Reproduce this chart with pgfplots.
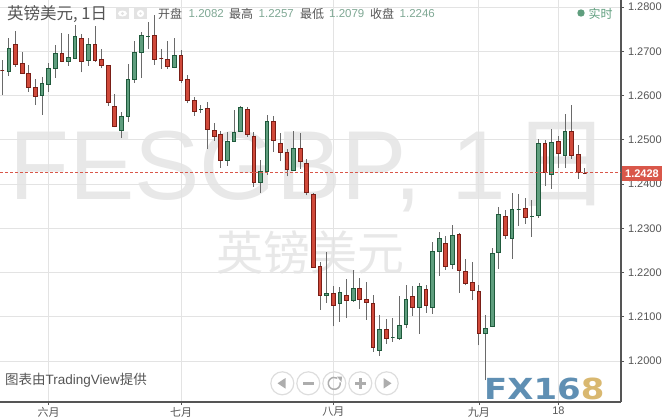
\documentclass[border=0pt]{standalone}
\usepackage{fontspec}
\usepackage{pgfplots}
\usepackage{pgfplotstable}
\pgfplotsset{compat=1.18}
\setmainfont{Liberation Sans}
\newfontfamily\cjk{Noto Sans CJK SC}
\newfontfamily\logofont{DejaVu Sans}[BoldFont={DejaVu Sans Bold}]

\definecolor{gridc}{HTML}{E3E3E3}
\definecolor{spine}{HTML}{555555}
\definecolor{txt}{HTML}{555555}
\definecolor{numc}{HTML}{7FA894}
\definecolor{upfill}{HTML}{5F9E7E}
\definecolor{upline}{HTML}{1F5A3C}
\definecolor{dnfill}{HTML}{D0493A}
\definecolor{dnline}{HTML}{7A1E16}
\definecolor{wick}{HTML}{6A6A6A}
\definecolor{mark}{HTML}{E8E8E8}
\definecolor{tag}{HTML}{D9574A}
\definecolor{btn}{HTML}{DDDDDD}
\definecolor{btns}{HTML}{ADADAD}

% row number = trading day
\pgfplotstableread{
hi top bot lo
1.2680 1.2656 1.2656 1.2601
1.2731 1.2707 1.2654 1.2644
1.2746 1.2716 1.2670 1.2665
1.2699 1.2673 1.2650 1.2649
1.2669 1.2650 1.2618 1.2609
1.2637 1.2618 1.2597 1.2578
1.2641 1.2627 1.2600 1.2556
1.2673 1.2661 1.2625 1.2608
1.2714 1.2695 1.2661 1.2640
1.2742 1.2695 1.2676 1.2675
1.2739 1.2686 1.2676 1.2667
1.2759 1.2734 1.2684 1.2682
1.2738 1.2729 1.2676 1.2652
1.2729 1.2716 1.2679 1.2667
1.2757 1.2716 1.2679 1.2676
1.2705 1.2682 1.2667 1.2661
1.2669 1.2668 1.2585 1.2577
1.2603 1.2575 1.2530 1.2528
1.2562 1.2553 1.2521 1.2505
1.2671 1.2637 1.2552 1.2541
1.2723 1.2698 1.2637 1.2629
1.2743 1.2736 1.2698 1.2639
1.2765 1.2733 1.2733 1.2705
1.2782 1.2736 1.2681 1.2669
1.2704 1.2683 1.2683 1.2660
1.2723 1.2682 1.2665 1.2660
1.2731 1.2691 1.2663 1.2661
1.2703 1.2691 1.2634 1.2629
1.2646 1.2637 1.2589 1.2582
1.2596 1.2589 1.2564 1.2554
1.2578 1.2569 1.2569 1.2560
1.2585 1.2571 1.2524 1.2479
1.2537 1.2521 1.2508 1.2498
1.2520 1.2512 1.2454 1.2437
1.2517 1.2496 1.2454 1.2441
1.2567 1.2517 1.2496 1.2495
1.2576 1.2573 1.2519 1.2517
1.2575 1.2569 1.2512 1.2507
1.2517 1.2508 1.2403 1.2394
1.2454 1.2429 1.2404 1.2380
1.2555 1.2542 1.2428 1.2421
1.2553 1.2542 1.2499 1.2472
1.2515 1.2492 1.2472 1.2451
1.2478 1.2472 1.2433 1.2417
1.2520 1.2481 1.2430 1.2429
1.2515 1.2481 1.2451 1.2435
1.2456 1.2447 1.2381 1.2374
1.2380 1.2377 1.2212 1.2211
1.2223 1.2213 1.2148 1.2116
1.2246 1.2153 1.2148 1.2132
1.2170 1.2153 1.2126 1.2078
1.2167 1.2155 1.2130 1.2089
1.2185 1.2148 1.2137 1.2098
1.2206 1.2164 1.2136 1.2134
1.2188 1.2164 1.2139 1.2118
1.2179 1.2139 1.2133 1.2093
1.2148 1.2130 1.2031 1.2021
1.2104 1.2072 1.2024 1.2012
1.2095 1.2072 1.2051 1.2039
1.2097 1.2053 1.2053 1.2044
1.2147 1.2081 1.2051 1.2048
1.2172 1.2139 1.2083 1.2074
1.2170 1.2146 1.2121 1.2102
1.2176 1.2169 1.2121 1.2062
1.2171 1.2162 1.2126 1.2109
1.2268 1.2248 1.2121 1.2107
1.2292 1.2277 1.2248 1.2193
1.2282 1.2266 1.2214 1.2206
1.2307 1.2284 1.2218 1.2207
1.2289 1.2286 1.2205 1.2154
1.2231 1.2203 1.2176 1.2171
1.2223 1.2178 1.2160 1.2137
1.2171 1.2157 1.2062 1.2035
1.2104 1.2074 1.2062 1.1956
1.2255 1.2243 1.2078 1.2076
1.2349 1.2331 1.2246 1.2209
1.2341 1.2327 1.2283 1.2276
1.2379 1.2343 1.2277 1.2231
1.2377 1.2343 1.2343 1.2306
1.2368 1.2345 1.2325 1.2310
1.2364 1.2326 1.2326 1.2281
1.2502 1.2492 1.2329 1.2324
1.2499 1.2492 1.2426 1.2395
1.2524 1.2494 1.2422 1.2389
1.2508 1.2496 1.2469 1.2437
1.2558 1.2519 1.2465 1.2436
1.2579 1.2519 1.2465 1.2457
1.2488 1.2467 1.2427 1.2412
1.2436 1.2424 1.2424 1.2422
}\candles

% one candle: day (table row), fill colour, outline colour
\newcommand\candle[3]{%
  \pgfplotstablegetelem{#1}{hi}\of\candles\let\cHi\pgfplotsretval
  \pgfplotstablegetelem{#1}{top}\of\candles\let\cTop\pgfplotsretval
  \pgfplotstablegetelem{#1}{bot}\of\candles\let\cBot\pgfplotsretval
  \pgfplotstablegetelem{#1}{lo}\of\candles\let\cLo\pgfplotsretval
  \pgfmathsetmacro\xl{#1-0.28}%
  \pgfmathsetmacro\xr{#1+0.28}%
  \edef\act{\noexpand\addplot[forget plot,wick,line width=0.9pt]
      coordinates {(#1,\cLo) (#1,\cHi)};
    \noexpand\addplot[forget plot,draw=#3,fill=#2,line width=1pt]
      coordinates {(\xl,\cBot) (\xr,\cBot) (\xr,\cTop) (\xl,\cTop)} -- cycle;}%
  \act
}

\begin{document}
\begin{tikzpicture}[x=1pt,y=-1pt]
\useasboundingbox (0,0) rectangle (662,418);

% watermarks
\node[anchor=base west,inner sep=0pt,text=mark,font=\fontsize{98}{98}\selectfont] at (9,199) {FESGBP, \kern3pt 1\kern5pt{\cjk\fontsize{100}{100}\selectfont 日}};
\node[anchor=center,inner sep=0pt,text=mark,font=\fontsize{47}{47}\selectfont\cjk] at (310,253) {英镑美元};

\begin{axis}[
  at={(0pt,-402pt)},anchor=south west,
  scale only axis,width=621pt,height=402pt,
  xmin=-0.35,xmax=93.46,ymin=1.19073,ymax=1.28158,
  axis x line*=bottom,axis y line*=right,
  axis line style={-,spine,line width=1.1pt},
  grid=major,major grid style={gridc,line width=0.9pt},
  tick align=outside,major tick length=3pt,
  tick style={spine,line width=0.8pt},
  xtick={7,27,50,72,84},
  xticklabels={{\cjk 六月},{\cjk 七月},{\cjk 八月},{\cjk 九月},18},
  ytick={1.20,1.21,1.22,1.23,1.24,1.25,1.26,1.27,1.28},
  /pgf/number format/fixed,
  /pgf/number format/fixed zerofill,
  /pgf/number format/precision=4,
  /pgf/number format/assume math mode=true,
  ticklabel style={font=\fontsize{11}{11}\selectfont,text=txt},
  xticklabel style={yshift=1.5pt},
  yticklabel style={xshift=0.5pt},
  clip=true,
]
\pgfplotsinvokeforeach{1,6,7,8,10,11,13,18,19,20,21,22,26,30,34,35,36,39,40,44,49,51,53,57,59,60,61,63,65,66,68,73,74,75,77,78,80,81,83,85}{
  \candle{#1}{upfill}{upline}
}
\pgfplotsinvokeforeach{0,2,3,4,5,9,12,14,15,16,17,23,24,25,27,28,29,31,32,33,37,38,41,42,43,45,46,47,48,50,52,54,55,56,58,62,64,67,69,70,71,72,76,79,82,84,86,87,88}{
  \candle{#1}{dnfill}{dnline}
}
\addplot[forget plot,tag,densely dashed,line width=0.7pt] coordinates {(-0.35,1.2427) (93.46,1.2427)};
\end{axis}

% last price tag
\fill[tag] (621.5,166) rectangle (662,181);
\node[anchor=center,inner sep=0pt,text=white,font=\fontsize{11}{11}\selectfont\bfseries] at (642,173.5) {1.2428};

% header
\node[anchor=west,inner sep=0pt,text=txt,font=\fontsize{16.5}{17}\selectfont\cjk] at (7,14) {英镑美元, 1日};
\fill[gridc] (116,8) rectangle (129,19);
\fill[white] (122.5,13.5) ellipse (4.5 and 3);
\fill[gridc] (122.5,13.5) circle (1.6);
\fill[gridc] (134,8) rectangle (147,19);
\fill[white] (140.5,13.5) circle (3.6);
\fill[gridc] (140.5,13.5) circle (1.3);
\begin{scope}[inner sep=0pt]
\node[anchor=west,text=txt,font=\fontsize{12}{12}\selectfont\cjk] at (158,14) {开盘};
\node[anchor=west,text=numc,font=\fontsize{11.5}{12}\selectfont] at (188.5,14) {1.2082};
\node[anchor=west,text=txt,font=\fontsize{12}{12}\selectfont\cjk] at (229,14) {最高};
\node[anchor=west,text=numc,font=\fontsize{11.5}{12}\selectfont] at (258.5,14) {1.2257};
\node[anchor=west,text=txt,font=\fontsize{12}{12}\selectfont\cjk] at (300,14) {最低};
\node[anchor=west,text=numc,font=\fontsize{11.5}{12}\selectfont] at (329,14) {1.2079};
\node[anchor=west,text=txt,font=\fontsize{12}{12}\selectfont\cjk] at (370,14) {收盘};
\node[anchor=west,text=numc,font=\fontsize{11.5}{12}\selectfont] at (399.5,14) {1.2246};
\node[anchor=west,text=upfill,font=\fontsize{12}{12}\selectfont\cjk] at (588.5,13.5) {实时};
\end{scope}
\fill[upfill] (581,13) circle (3.7);

% credit
\node[anchor=west,inner sep=0pt,text=txt,font=\fontsize{13.5}{14}\selectfont] at (5,380) {{\cjk 图表由}TradingView{\cjk 提供}};

% zoom buttons
\foreach \cx in {282.3,308.3,334.3,360.3,386.7}
  \draw[btn,line width=1.2pt] (\cx,383.3) circle (11.5);
\fill[btns] (277.5,383.3) -- (285.5,378) -- (285.5,388.6) -- cycle;
\fill[btns] (302.5,382) rectangle (314,384.8);
\draw[btns,line width=1.5pt] (340.2,382.3) arc[start angle=-10,end angle=300,radius=6];
\fill[btns] (337,376.5) -- (342,376.5) -- (341.5,382) -- cycle;
\fill[btns] (354.5,382) rectangle (366,384.8);
\fill[btns] (358.9,377.5) rectangle (361.7,389);
\fill[btns] (391.5,383.3) -- (383.5,378) -- (383.5,388.6) -- cycle;

% logo
\node[anchor=base west,inner sep=0pt,font=\fontsize{29}{29}\selectfont\logofont\bfseries,xscale=1.17] at (484,399)
  {\textcolor[HTML]{5F8FB3}{FX16}\textcolor[HTML]{D9B870}{8}};
\end{tikzpicture}
\end{document}
